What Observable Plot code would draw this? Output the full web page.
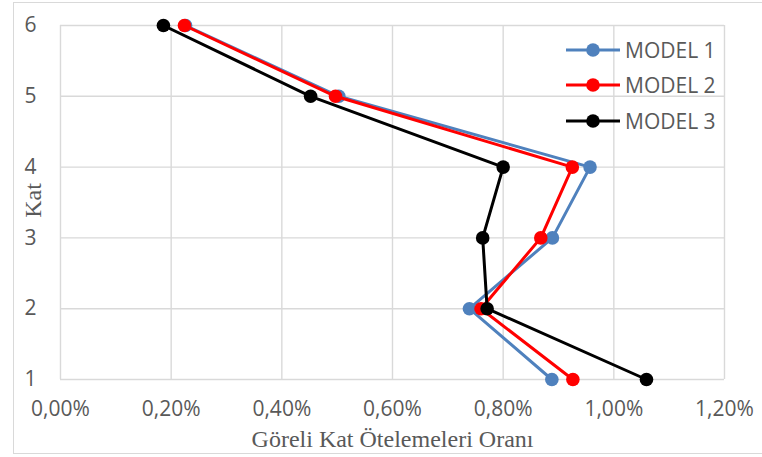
<!DOCTYPE html>
<html>
<head>
<meta charset="utf-8">
<script src="https://cdn.jsdelivr.net/npm/d3@7"></script>
<script src="https://cdn.jsdelivr.net/npm/@observablehq/plot@0.6"></script>
<style>
  html, body { margin: 0; padding: 0; background: #fff; }
  #chart { position: relative; width: 762px; height: 457px; overflow: hidden; }
  #chart .border {
    position: absolute; left: 13px; top: 2px; width: 760px; height: 452px;
    border: 1px solid #d9d9d9; border-right: none; box-sizing: border-box;
  }
  #chart > svg { position: absolute; left: 0; top: 0; }
  .legend { position: absolute; left: 566px; top: 32px; font-family: "Open Sans", sans-serif;
    font-size: 21px; color: #595959; }
  .legend .row { display: flex; align-items: center; height: 35.5px; }
  .legend .row svg { display: block; margin-right: 5px; }
</style>
</head>
<body>
<div id="chart"><div class="border"></div></div>
<script>
// Storey numbers (Kat) and relative storey drift ratios in percent
const kat = [1, 2, 3, 4, 5, 6];
const model1 = [0.888, 0.739, 0.889, 0.957, 0.503, 0.226];
const model2 = [0.926, 0.760, 0.868, 0.925, 0.497, 0.224];
const model3 = [1.059, 0.771, 0.763, 0.800, 0.452, 0.186];

const seriesNames = ["MODEL 1", "MODEL 2", "MODEL 3"];
const seriesColors = ["#4f81bd", "#ff0000", "#000000"];

const xTicks = [0, 0.2, 0.4, 0.6, 0.8, 1.0, 1.2];
const yTicks = [1, 2, 3, 4, 5, 6];

const xTitle = "Göreli Kat Ötelemeleri Oranı";
const yTitle = "Kat";

const values = [model1, model2, model3];
const series = seriesNames.map((name, i) => ({
  name,
  color: seriesColors[i],
  rows: kat.map((k, j) => ({ kat: k, value: values[i][j], model: name }))
}));

const pct = d => d3.format(".2f")(d).replace(".", ",") + "%";
const grid = { stroke: "#d9d9d9", strokeOpacity: 1, strokeWidth: 1.4 };

const seriesMarks = series.flatMap(s => [
  Plot.line(s.rows, { x: "value", y: "kat", stroke: s.color, strokeWidth: 3, strokeLinejoin: "round" }),
  Plot.dot(s.rows, { x: "value", y: "kat", r: 6.8, fill: s.color, stroke: "none" })
]);

const plot = Plot.plot({
  width: 762,
  height: 457,
  marginLeft: 60,
  marginRight: 38,
  marginTop: 25,
  marginBottom: 78,
  style: { fontFamily: "Open Sans, sans-serif", fontSize: "21px", color: "#595959", background: "transparent" },
  x: { domain: [0, 1.2] },
  y: { domain: [1, 6] },
  marks: [
    Plot.gridX(xTicks, grid),
    Plot.gridY(yTicks, grid),
    Plot.axisX(xTicks, { tickSize: 0, tickPadding: 22, tickFormat: pct, label: null, fill: "#595959", fontSize: 21 }),
    Plot.axisY(yTicks, { tickSize: 0, tickPadding: 24, tickFormat: d3.format("d"), label: null, fill: "#595959", fontSize: 21 }),
    ...seriesMarks,
    Plot.text([yTitle], { frameAnchor: "left", dx: -27, dy: -2, rotate: -90, textAnchor: "middle", lineAnchor: "middle",
      fontFamily: "Liberation Serif, serif", fontSize: 24, fill: "#595959" }),
    Plot.text([xTitle], { frameAnchor: "bottom", dy: 60, textAnchor: "middle", lineAnchor: "middle",
      fontFamily: "Liberation Serif, serif", fontSize: 24, fill: "#595959" })
  ]
});

const chart = document.getElementById("chart");
chart.appendChild(plot);

// Legend in the upper-right corner of the plot area
const legend = document.createElement("div");
legend.className = "legend";
series.forEach(s => {
  const row = document.createElement("div");
  row.className = "row";
  const sw = d3.create("svg").attr("width", 54).attr("height", 16);
  sw.append("line").attr("x1", 0).attr("x2", 54).attr("y1", 8).attr("y2", 8)
    .attr("stroke", s.color).attr("stroke-width", 3);
  sw.append("circle").attr("cx", 27).attr("cy", 8).attr("r", 6.8).attr("fill", s.color);
  row.appendChild(sw.node());
  const label = document.createElement("span");
  label.textContent = s.name;
  row.appendChild(label);
  legend.appendChild(row);
});
chart.appendChild(legend);
</script>
</body>
</html>
